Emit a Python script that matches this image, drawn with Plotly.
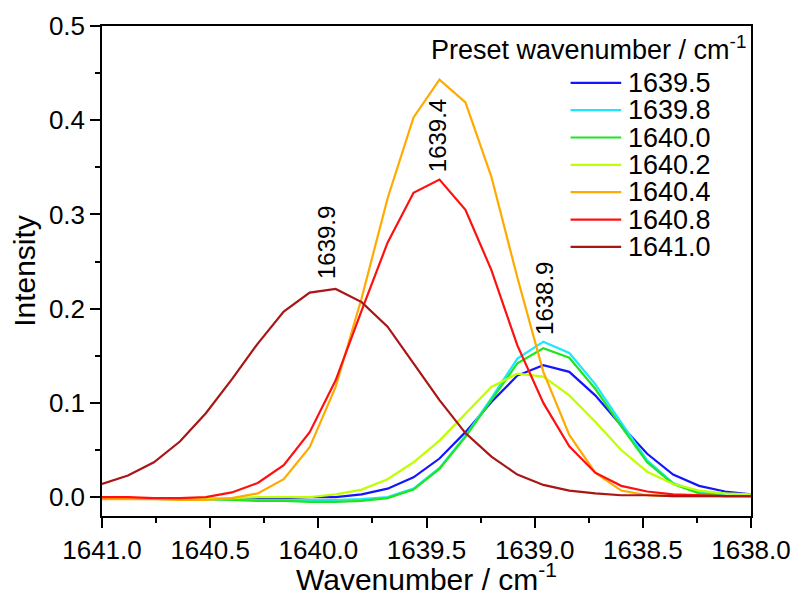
import plotly.graph_objects as go

# ---- data -------------------------------------------------------------
wavenumber = [1641.00, 1640.88, 1640.76, 1640.64, 1640.52, 1640.40, 1640.28,
              1640.16, 1640.04, 1639.92, 1639.80, 1639.68, 1639.56, 1639.44,
              1639.32, 1639.20, 1639.08, 1638.96, 1638.84, 1638.72, 1638.60,
              1638.48, 1638.36, 1638.24, 1638.12, 1638.00]

series_names = ["1639.5", "1639.8", "1640.0", "1640.2", "1640.4", "1640.8", "1641.0"]

i_1639_5 = [-0.001, -0.001, -0.001, -0.001, -0.001, -0.001, -0.001, -0.001, 0.000, 0.000,
            0.003, 0.009, 0.021, 0.041, 0.069, 0.101, 0.129, 0.140, 0.133, 0.108,
            0.076, 0.046, 0.024, 0.012, 0.006, 0.003]
i_1639_8 = [-0.001, -0.001, -0.001, -0.002, -0.002, -0.002, -0.003, -0.003, -0.003, -0.003,
            -0.002, 0.000, 0.009, 0.031, 0.065, 0.105, 0.147, 0.165, 0.153, 0.120,
            0.079, 0.039, 0.015, 0.005, 0.002, 0.001]
i_1640_0 = [-0.001, -0.001, -0.001, -0.002, -0.002, -0.003, -0.004, -0.004, -0.005, -0.005,
            -0.004, -0.001, 0.008, 0.030, 0.064, 0.103, 0.142, 0.158, 0.148, 0.115,
            0.075, 0.037, 0.014, 0.004, 0.001, 0.001]
i_1640_2 = [-0.001, -0.001, -0.001, -0.001, -0.001, -0.001, 0.000, 0.000, 0.000, 0.003,
            0.008, 0.019, 0.037, 0.060, 0.089, 0.117, 0.131, 0.128, 0.108, 0.080,
            0.050, 0.027, 0.014, 0.007, 0.004, 0.003]
i_1640_4 = [-0.002, -0.002, -0.002, -0.003, -0.003, -0.001, 0.004, 0.019, 0.053, 0.117,
            0.211, 0.317, 0.403, 0.443, 0.419, 0.340, 0.233, 0.133, 0.066, 0.026,
            0.007, 0.002, 0.001, 0.001, 0.001, 0.001]
i_1640_8 = [0.000, 0.000, -0.001, -0.001, 0.000, 0.005, 0.015, 0.034, 0.069, 0.124,
            0.198, 0.270, 0.323, 0.337, 0.305, 0.241, 0.161, 0.100, 0.054, 0.026,
            0.012, 0.006, 0.003, 0.002, 0.001, 0.001]
i_1641_0 = [0.014, 0.023, 0.037, 0.059, 0.089, 0.125, 0.163, 0.197, 0.217, 0.221,
            0.207, 0.181, 0.142, 0.103, 0.068, 0.043, 0.024, 0.013, 0.007, 0.004,
            0.002, 0.002, 0.001, 0.001, 0.001, 0.001]

series_values = [i_1639_5, i_1639_8, i_1640_0, i_1640_2, i_1640_4, i_1640_8, i_1641_0]
series_colors = ["#1414ff", "#1ee6ff", "#1ee61e", "#c0ff00", "#ffaa00", "#ff1010", "#a81616"]

peak_labels = ["1639.9", "1639.4", "1638.9"]
peak_label_x = [1639.963, 1639.452, 1638.954]
peak_label_y = [0.270, 0.384, 0.211]

x_tick_vals = [1641.0, 1640.5, 1640.0, 1639.5, 1639.0, 1638.5, 1638.0]
x_tick_text = ["1641.0", "1640.5", "1640.0", "1639.5", "1639.0", "1638.5", "1638.0"]
y_tick_vals = [0.0, 0.1, 0.2, 0.3, 0.4, 0.5]
y_tick_text = ["0.0", "0.1", "0.2", "0.3", "0.4", "0.5"]

FONT = "Liberation Sans, Arial, sans-serif"

# ---- figure -----------------------------------------------------------
fig = go.Figure()
for name, vals, col in zip(series_names, series_values, series_colors):
    fig.add_trace(go.Scatter(x=wavenumber, y=vals, mode="lines", name=name,
                             line=dict(color=col, width=2.2), showlegend=False))

# peak labels
for txt, px, py in zip(peak_labels, peak_label_x, peak_label_y):
    fig.add_annotation(x=px, y=py, xref="x", yref="y", text=txt, textangle=-90,
                       showarrow=False, xanchor="center", yanchor="middle",
                       font=dict(family=FONT, size=24, color="black"))

# legend (drawn as layout items)
leg_x0, leg_x1, leg_tx = 0.722, 0.800, 0.808
leg_y0, leg_dy = 0.884, 0.0558
for k, (name, col) in enumerate(zip(series_names, series_colors)):
    yy = leg_y0 - k * leg_dy
    fig.add_shape(type="line", xref="paper", yref="paper", x0=leg_x0, x1=leg_x1,
                  y0=yy, y1=yy, line=dict(color=col, width=2.2))
    fig.add_annotation(x=leg_tx, y=yy, xref="paper", yref="paper", text=name,
                       showarrow=False, xanchor="left", yanchor="middle",
                       font=dict(family=FONT, size=27, color="black"))
fig.add_annotation(x=0.996, y=0.955, xref="paper", yref="paper",
                   text="Preset wavenumber / cm<sup>-1</sup>", showarrow=False,
                   xanchor="right", yanchor="middle",
                   font=dict(family=FONT, size=27, color="black"))

fig.update_layout(
    width=794, height=588,
    margin=dict(l=94, r=51, t=18, b=80),
    paper_bgcolor="white", plot_bgcolor="white",
    font=dict(family=FONT, color="black"),
    xaxis=dict(
        range=[1641.0, 1638.0], tickvals=x_tick_vals, ticktext=x_tick_text,
        automargin=False,
        ticks="outside", ticklen=10, tickwidth=1.5, tickcolor="black",
        minor=dict(ticks="outside", ticklen=5, tickwidth=1.5, tickcolor="black", dtick=0.25),
        showline=True, linecolor="black", linewidth=1.5, mirror=True,
        showgrid=False, zeroline=False,
        tickfont=dict(family=FONT, size=26),
        title=dict(text="Wavenumber / cm<sup>-1</sup>", font=dict(family=FONT, size=30),
                   standoff=8),
    ),
    yaxis=dict(
        range=[-0.02, 0.5], tickvals=y_tick_vals, ticktext=y_tick_text,
        automargin=False,
        ticks="outside", ticklen=10, tickwidth=1.5, tickcolor="black",
        minor=dict(ticks="outside", ticklen=5, tickwidth=1.5, tickcolor="black", dtick=0.05,
                   tick0=0),
        showline=True, linecolor="black", linewidth=1.5, mirror=True,
        showgrid=False, zeroline=False,
        tickfont=dict(family=FONT, size=26),
        title=dict(text="Intensity", font=dict(family=FONT, size=30), standoff=7),
    ),
)

fig.write_html("out.html")
